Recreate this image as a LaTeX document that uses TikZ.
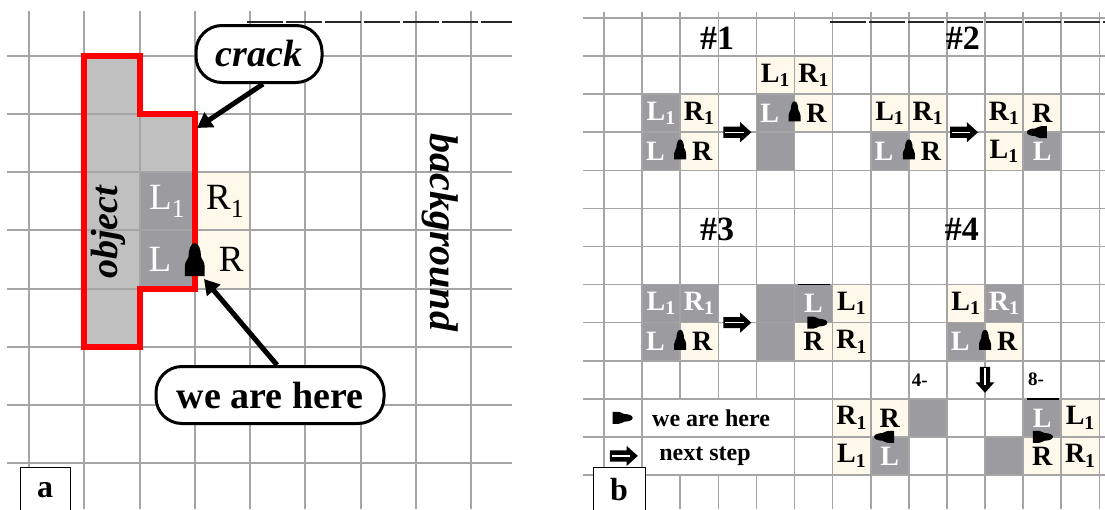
\documentclass[tikz,border=0pt]{standalone}
\usepackage{fontspec}
\setmainfont{Liberation Serif}
\usetikzlibrary{arrows.meta}
\pgfdeclarelayer{paper}
\pgfdeclarelayer{cells}
\pgfdeclarelayer{lines}
\pgfsetlayers{paper,cells,lines,main}
\definecolor{cream}{RGB}{255,249,236}
\definecolor{darkcell}{RGB}{156,156,160}
\definecolor{objgrey}{RGB}{192,192,192}
\definecolor{gridgrey}{RGB}{165,165,165}
\tikzset{
  gridA/.style={gridgrey,line width=2pt},
  gridB/.style={gridgrey,line width=1.6pt},
  atxt/.style={inner sep=0pt,font=\fontsize{37}{40}\selectfont},
  btxt/.style={inner sep=0pt,font=\bfseries\fontsize{28}{30}\selectfont},
  ttl/.style={inner sep=0pt,font=\bfseries\fontsize{34}{36}\selectfont},
  legtxt/.style={inner sep=0pt,font=\bfseries\fontsize{24}{26}\selectfont},
  smalltxt/.style={inner sep=0pt,font=\bfseries\fontsize{19}{20}\selectfont},
  labelbox/.style={draw=black,line width=1pt,fill=white,minimum width=50pt,minimum height=46pt,inner sep=0pt,font=\bfseries\fontsize{32}{34}\selectfont},
  bubble/.style={draw=black,line width=3pt,fill=white,rounded corners=26pt,minimum height=57pt,inner sep=0pt},
  callarrow/.style={line width=5pt,-{Triangle[length=15pt,width=17pt]}},
  topline/.style={black!85,line width=1.3pt,dash pattern=on 36pt off 3pt},
  pawn/.pic={\fill (-0.5,-0.3) -- (-0.5,0.3) -- (-0.2,0.3)
      .. controls (-0.05,0.3) and (0.0,0.2) .. (0.08,0.19)
      .. controls (0.3,0.19) and (0.5,0.12) .. (0.5,0)
      .. controls (0.5,-0.12) and (0.3,-0.19) .. (0.08,-0.19)
      .. controls (0.0,-0.2) and (-0.05,-0.3) .. (-0.2,-0.3) -- cycle;},
  nextarr/.pic={\fill (-0.5,-0.2) -- (0.1,-0.2) -- (0.1,-0.36) -- (0.5,0) -- (0.1,0.36) -- (0.1,0.2) -- (-0.5,0.2) -- cycle;
      \draw[white,line width=1.4pt] (-0.44,0) -- (0.22,0);}
}
% col, row, fill, text colour, text, name, x offset of the text
\newcommand\bcell[7]{%
  \begin{pgfonlayer}{cells}\fill[#3] (#1,#2) rectangle ++(1,1);\end{pgfonlayer}
  \node[btxt,text=#4] (#6) at ({#1+0.5+#7},{#2+0.5}) {#5};}
\newcommand\bdark[2]{%
  \begin{pgfonlayer}{cells}\fill[darkcell] (#1,#2) rectangle ++(1,1);\end{pgfonlayer}}
\newcommand\sub[1]{\textsubscript{#1}}
\begin{document}
\begin{tikzpicture}[x=1pt,y=-1pt]
\useasboundingbox (0,0) rectangle (1105,509);
\begin{pgfonlayer}{paper}
\fill[white] (0,0) rectangle (1105,509);
\end{pgfonlayer}

% ---------------- panel a ----------------
\draw[topline] (247,22) -- (512,22);
\begin{scope}[shift={(29,56)},x=55.25pt,y=-58.15pt]
  \begin{pgfonlayer}{cells}
    \fill[objgrey] (1,0) rectangle (2,5);
    \fill[objgrey] (2,1) rectangle (3,2);
    \fill[darkcell] (2,2) rectangle (3,4);
    \fill[cream] (3,2) rectangle (4,4);
  \end{pgfonlayer}
  \begin{pgfonlayer}{lines}
    \foreach \c in {0,...,8} \draw[gridA] (\c,-0.774) -- (\c,7.79);
    \foreach \r in {0,...,7} \draw[gridA] (-0.398,\r) -- (8.742,\r);
  \end{pgfonlayer}
  \draw[red,line width=6pt,line join=miter]
    (1,0) -- (2,0) -- (2,1) -- (3,1) -- (3,4) -- (2,4) -- (2,5) -- (1,5) -- cycle;
  \node[atxt,text=white] (aL1) at (2.5,2.5) {L\sub{1}};
  \node[atxt] (aR1) at (3.55,2.5) {R\sub{1}};
  \node[atxt,text=white] (aL) at (2.37,3.5) {L};
  \node[atxt] (aR) at (3.66,3.5) {R};
  \path (3,3.5) pic[rotate=90,x=33pt,y=33pt] {pawn};
  \node[inner sep=0pt,rotate=90,font=\bfseries\itshape\fontsize{38}{40}\selectfont] (objtxt) at (1.43,3.03) {object};
  \node[inner sep=0pt,rotate=-90,font=\bfseries\itshape\fontsize{40}{42}\selectfont] (bgtxt) at (7.44,3.03) {background};
\end{scope}
\node[bubble,minimum width=126pt,font=\bfseries\itshape\fontsize{38}{40}\selectfont] (crack) at (259,54) {crack};
\coordinate (crackpt) at (197,128);
\draw[callarrow] ([xshift=4pt]crack.south) -- (crackpt);
\node[bubble,minimum width=228pt,font=\bfseries\fontsize{38}{40}\selectfont] (here) at (270,395) {we are here};
\coordinate (herept) at (204,279);
\draw[callarrow] ([xshift=7pt]here.north) -- (herept);
\node[labelbox] (labela) at (45,490) {a};

% ---------------- panel b ----------------
\draw[topline] (830,22) -- (1105,22);
\begin{scope}[shift={(604,18)},x=38.1pt,y=-38.08pt]
  \begin{pgfonlayer}{lines}
    \foreach \c in {0,...,13} \draw[gridB] (\c,-0.16) -- (\c,12.9);
    \foreach \r in {0,...,12} \draw[gridB] (-0.55,\r) -- (13.2,\r);
  \end{pgfonlayer}
  % titles
  \node[ttl] (t1) at (2.97,0.52) {\#1};
  \node[ttl] (t2) at (9.42,0.52) {\#2};
  \node[ttl] (t3) at (2.97,5.54) {\#3};
  \node[ttl] (t4) at (9.39,5.54) {\#4};
  % #1
  \bcell{1}{2}{darkcell}{white}{L\sub{1}}{p1aL1}{0}
  \bcell{2}{2}{cream}{black}{R\sub{1}}{p1aR1}{0}
  \bcell{1}{3}{darkcell}{white}{L}{p1aL}{-0.15}
  \bcell{2}{3}{cream}{black}{R}{p1aR}{0.08}
  \path (2,3.45) pic[rotate=90,x=20pt,y=20pt] {pawn};
  \path (3.5,3) pic[x=28pt,y=28pt] {nextarr};
  \bcell{4}{1}{cream}{black}{L\sub{1}}{p1bL1}{0}
  \bcell{5}{1}{cream}{black}{R\sub{1}}{p1bR1}{0}
  \bcell{4}{2}{darkcell}{white}{L}{p1bL}{-0.15}
  \bcell{5}{2}{cream}{black}{R}{p1bR}{0.08}
  \bdark{4}{3}
  \path (5,2.45) pic[rotate=90,x=20pt,y=20pt] {pawn};
  % #2
  \bcell{7}{2}{cream}{black}{L\sub{1}}{p2aL1}{0}
  \bcell{8}{2}{cream}{black}{R\sub{1}}{p2aR1}{0}
  \bcell{7}{3}{darkcell}{white}{L}{p2aL}{-0.15}
  \bcell{8}{3}{cream}{black}{R}{p2aR}{0.08}
  \path (8,3.45) pic[rotate=90,x=20pt,y=20pt] {pawn};
  \path (9.45,3) pic[x=28pt,y=28pt] {nextarr};
  \bcell{10}{2}{cream}{black}{R\sub{1}}{p2bR1}{0}
  \bcell{11}{2}{cream}{black}{R}{p2bR}{0}
  \bcell{10}{3}{cream}{black}{L\sub{1}}{p2bL1}{0}
  \bcell{11}{3}{darkcell}{white}{L}{p2bL}{0}
  \path (11.36,3) pic[rotate=180,x=20pt,y=20pt] {pawn};
  % #3
  \bcell{1}{7}{darkcell}{white}{L\sub{1}}{p3aL1}{0}
  \bcell{2}{7}{darkcell}{white}{R\sub{1}}{p3aR1}{0}
  \bcell{1}{8}{darkcell}{white}{L}{p3aL}{-0.15}
  \bcell{2}{8}{cream}{black}{R}{p3aR}{0.08}
  \path (2,8.45) pic[rotate=90,x=20pt,y=20pt] {pawn};
  \path (3.5,8) pic[x=28pt,y=28pt] {nextarr};
  \bdark{4}{7}
  \bdark{4}{8}
  \bcell{5}{7}{darkcell}{white}{L}{p3bL}{0}
  \bcell{6}{7}{cream}{black}{L\sub{1}}{p3bL1}{0}
  \bcell{5}{8}{cream}{black}{R}{p3bR}{0}
  \bcell{6}{8}{cream}{black}{R\sub{1}}{p3bR1}{0}
  \draw[black,line width=1.5pt] (5.08,7) -- (5.93,7);
  \path (5.6,8) pic[x=20pt,y=20pt] {pawn};
  % #4
  \bcell{9}{7}{cream}{black}{L\sub{1}}{p4aL1}{0}
  \bcell{10}{7}{darkcell}{white}{R\sub{1}}{p4aR1}{0}
  \bcell{9}{8}{darkcell}{white}{L}{p4aL}{-0.15}
  \bcell{10}{8}{cream}{black}{R}{p4aR}{0.08}
  \path (10,8.45) pic[rotate=90,x=20pt,y=20pt] {pawn};
  \path (10,9.5) pic[rotate=-90,x=26pt,y=26pt] {nextarr};
  \node[smalltxt] (four) at (8.29,9.5) {4-};
  \node[smalltxt] (eight) at (11.34,9.5) {8-};
  \bcell{6}{10}{cream}{black}{R\sub{1}}{p4bR1}{0}
  \bcell{7}{10}{cream}{black}{R}{p4bR}{0}
  \bcell{6}{11}{cream}{black}{L\sub{1}}{p4bL1}{0}
  \bcell{7}{11}{darkcell}{white}{L}{p4bL}{0}
  \bdark{8}{10}
  \path (7.35,11) pic[rotate=180,x=20pt,y=20pt] {pawn};
  \bdark{10}{11}
  \bcell{11}{10}{darkcell}{white}{L}{p4cL}{0}
  \bcell{12}{10}{cream}{black}{L\sub{1}}{p4cL1}{0}
  \bcell{11}{11}{cream}{black}{R}{p4cR}{0}
  \bcell{12}{11}{cream}{black}{R\sub{1}}{p4cR1}{0}
  \draw[black,line width=1.5pt] (11.1,10) -- (11.95,10);
  \path (11.52,11) pic[x=20pt,y=20pt] {pawn};
  % legend
  \filldraw[fill=white,draw=gridgrey,line width=1.6pt] (1,10) rectangle (5,11);
  \filldraw[fill=white,draw=gridgrey,line width=1.6pt] (1,11) rectangle (5,12);
  \path (0.49,10.5) pic[x=20pt,y=20pt] {pawn};
  \path (0.52,11.5) pic[x=28pt,y=28pt] {nextarr};
  \node[legtxt] (legwe) at (2.81,10.5) {we are here};
  \node[legtxt] (legnext) at (2.65,11.5) {next step};
\end{scope}
\node[labelbox,minimum width=52pt] (labelb) at (619,490) {b};
\end{tikzpicture}
\end{document}
